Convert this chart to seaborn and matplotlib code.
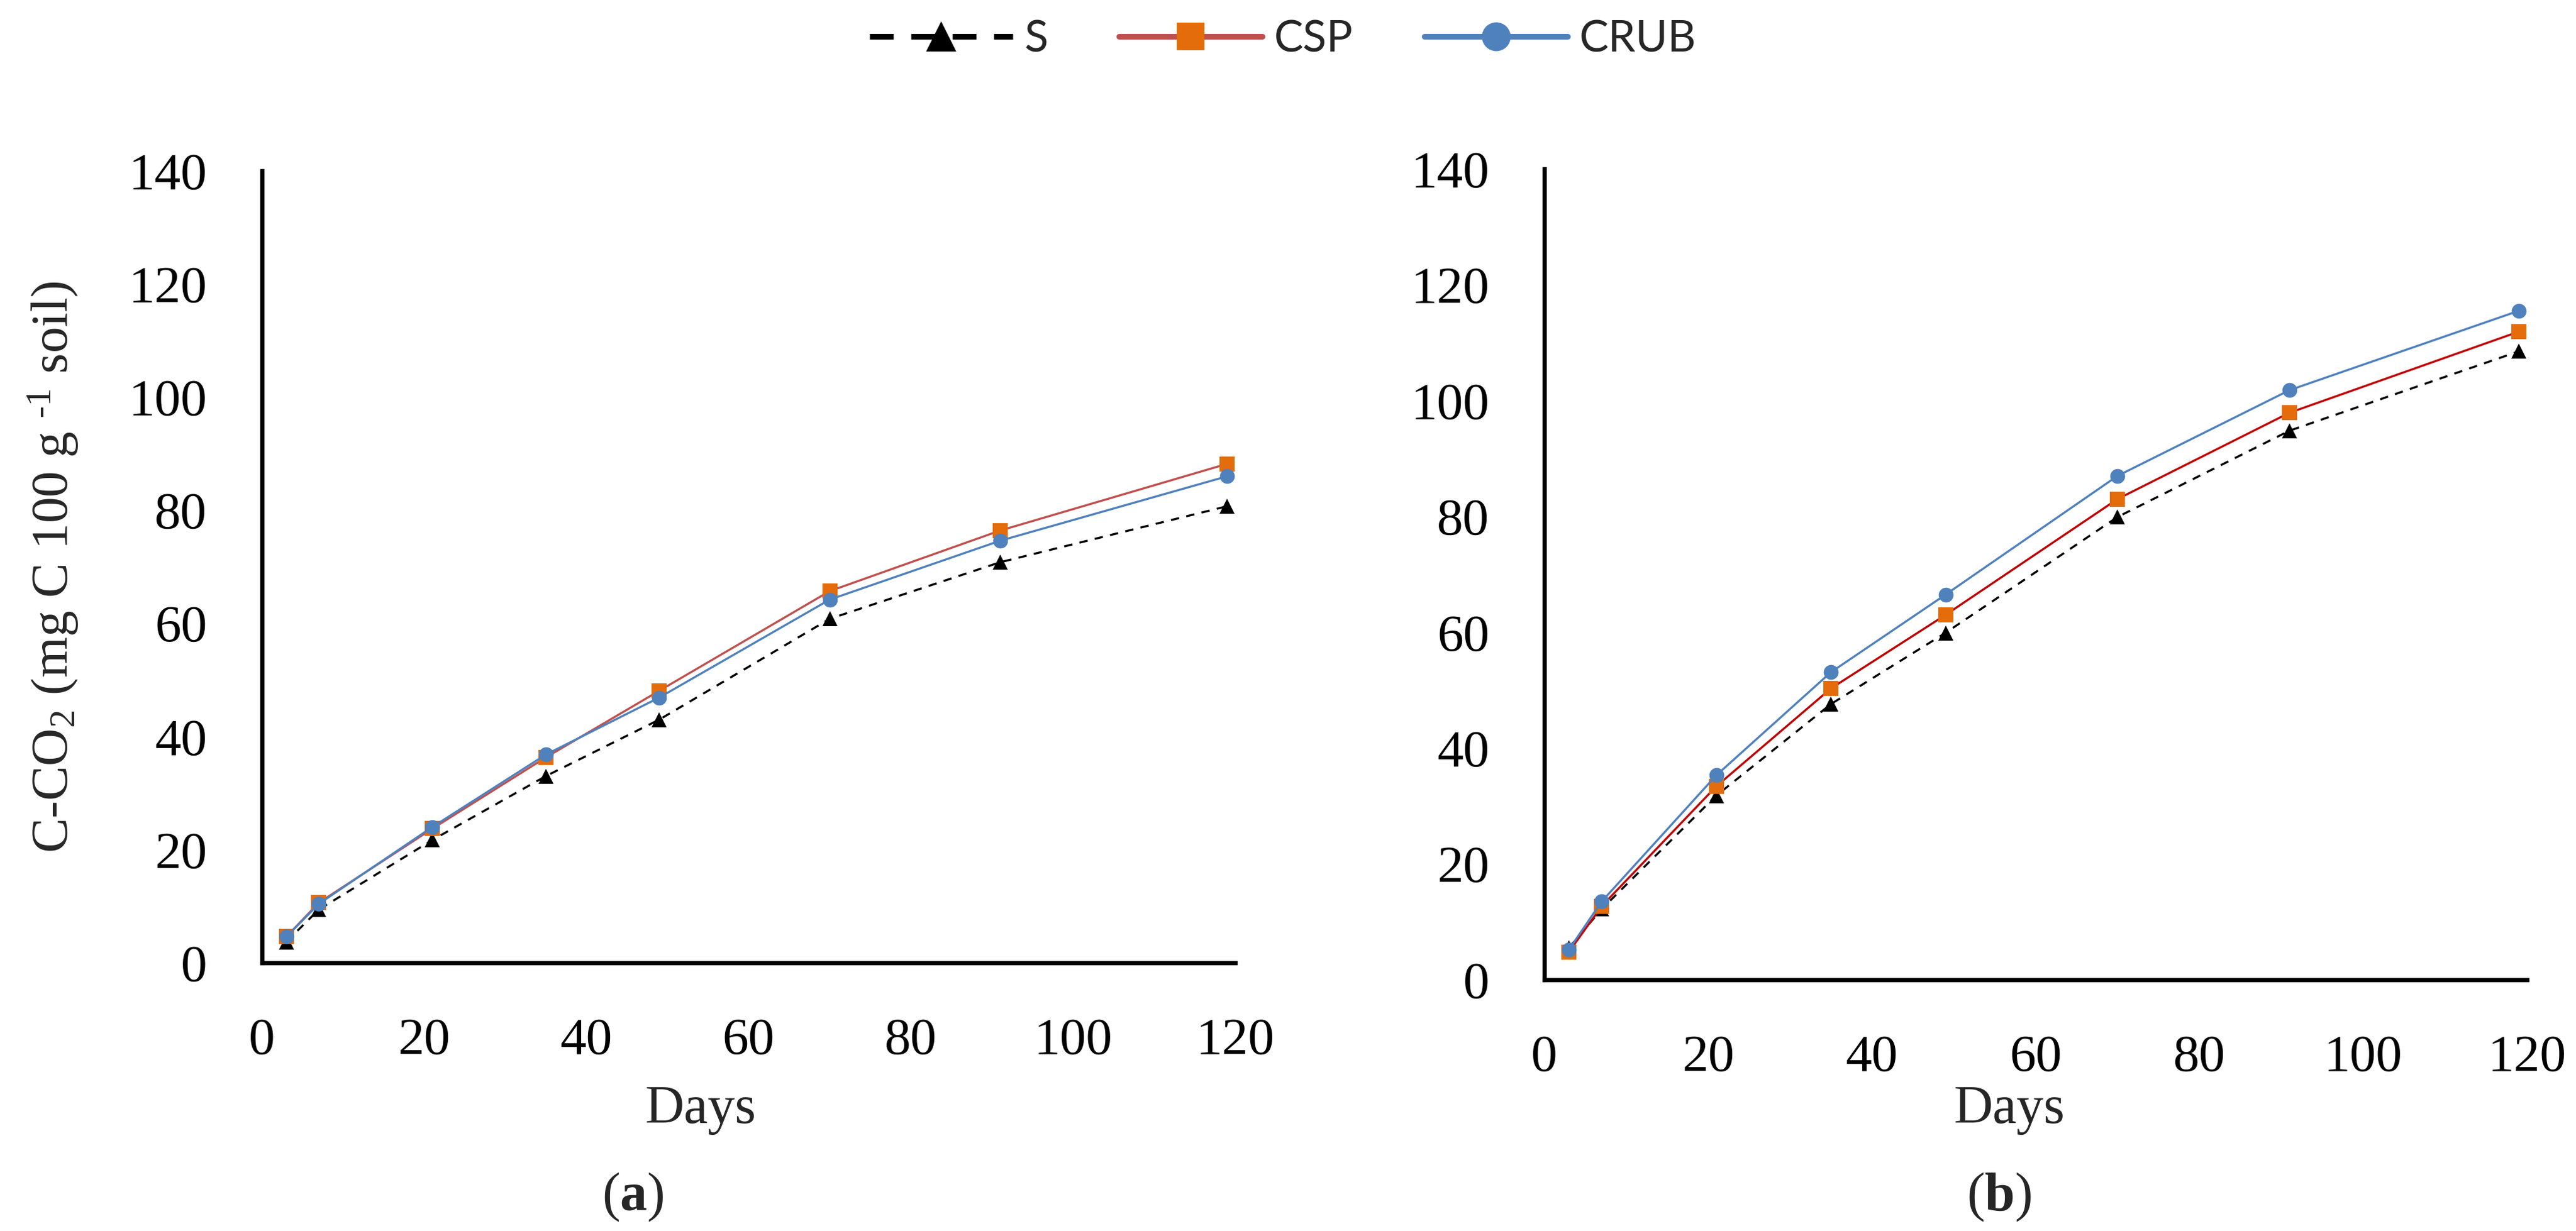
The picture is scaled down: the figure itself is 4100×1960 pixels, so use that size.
import numpy as np
import pandas as pd
import matplotlib
matplotlib.use('Agg')
import matplotlib.pyplot as plt
from matplotlib.lines import Line2D
import seaborn as sns

# dane
days = [3, 7, 21, 35, 49, 70, 91, 119]
a_S = [3.7, 9.4, 21.7, 33.0, 43.0, 60.8, 70.8, 80.7]
a_CSP = [4.6, 10.6, 23.7, 36.3, 48.1, 65.7, 76.4, 88.2]
a_CRUB = [4.6, 10.4, 24.0, 36.8, 46.9, 64.2, 74.6, 86.0]
b_S = [5.5, 12.2, 31.8, 47.6, 59.9, 79.9, 94.8, 108.5]
b_CSP = [4.8, 12.7, 33.4, 50.3, 63.0, 83.0, 97.9, 111.9]
b_CRUB = [5.2, 13.5, 35.3, 53.1, 66.5, 87.0, 101.8, 115.5]
series_names = ['S', 'CSP', 'CRUB']
x_ticks = [0, 20, 40, 60, 80, 100, 120]
y_ticks = [0, 20, 40, 60, 80, 100, 120, 140]

sns.set_style('white')
serif = ['Liberation Serif', 'DejaVu Serif']
plt.rcParams['font.family'] = serif
plt.rcParams['mathtext.fontset'] = 'custom'
plt.rcParams['mathtext.rm'] = 'Liberation Serif'
plt.rcParams['mathtext.it'] = 'Liberation Serif:italic'
plt.rcParams['mathtext.bf'] = 'Liberation Serif:bold'

black = '#000000'
red_a = '#C0504D'
red_b = '#C00000'
orange = '#E46C0A'
blue = '#4F81BD'

fig = plt.figure(figsize=(41, 19.6), dpi=100)
ax1 = fig.add_axes([0.1017, 0.2179, 0.3778, 0.6433])
ax2 = fig.add_axes([0.5995, 0.2041, 0.3815, 0.6587])


def draw(ax, s, csp, crub, csp_line):
    sns.lineplot(x=days, y=s, ax=ax, color=black, linewidth=2.4,
                 linestyle=(0, (4, 3.5)), marker='^', markersize=17,
                 markerfacecolor=black, markeredgecolor=black,
                 markeredgewidth=0, legend=False)
    sns.lineplot(x=days, y=csp, ax=ax, color=csp_line, linewidth=2.4,
                 marker='s', markersize=17, markerfacecolor=orange,
                 markeredgecolor=orange, markeredgewidth=0, legend=False)
    sns.lineplot(x=days, y=crub, ax=ax, color=blue, linewidth=2.4,
                 marker='o', markersize=17, markerfacecolor=blue,
                 markeredgecolor=blue, markeredgewidth=0, legend=False)
    ax.set_xlim(0, 120)
    ax.set_ylim(0, 140)
    ax.set_xticks(x_ticks)
    ax.set_yticks(y_ticks)
    ax.tick_params(direction='in', length=20, width=4.8, pad=63,
                   labelsize=60, colors=black)
    for lab in ax.get_xticklabels() + ax.get_yticklabels():
        lab.set_fontfamily(serif)
    for sp in ['top', 'right']:
        ax.spines[sp].set_visible(False)
    for sp in ['left', 'bottom']:
        ax.spines[sp].set_linewidth(4.8)
        ax.spines[sp].set_color(black)
    ax.grid(False)


draw(ax1, a_S, a_CSP, a_CRUB, red_a)
draw(ax2, b_S, b_CSP, b_CRUB, red_b)

# etykiety osi
ax1.set_xlabel('Days', fontsize=62)
ax1.xaxis.label.set_va('baseline')
ax1.xaxis.set_label_coords(0.4506, -0.2022)
ax2.set_xlabel('Days', fontsize=62)
ax2.xaxis.label.set_va('baseline')
ax2.xaxis.set_label_coords(0.473, -0.1766)
ax1.set_ylabel(r'C-CO$_{\mathregular{2}}$ (mg C 100 g $^{\text{-1}}$ soil)',
               fontsize=60, labelpad=55)
ax2.set_ylabel('')

fig.text(0.2456, 0.0168, r'($\mathbf{a}$)', fontsize=62, ha='center', va='baseline')
fig.text(0.776, 0.0168, r'($\mathbf{b}$)', fontsize=62, ha='center', va='baseline')

# legenda
handles = [
    Line2D([], [], color=black, lw=6.5, linestyle=(0, (4.2, 3.1)), marker='^',
           markersize=34, markerfacecolor=black, markeredgewidth=0),
    Line2D([], [], color=red_a, lw=6.5, marker='s', markersize=32,
           markerfacecolor=orange, markeredgewidth=0),
    Line2D([], [], color=blue, lw=6.5, marker='o', markersize=33,
           markerfacecolor=blue, markeredgewidth=0),
]
fig.legend(handles, series_names, loc='center', bbox_to_anchor=(0.498, 0.968),
           ncol=3, frameon=False, handlelength=3.28, handletextpad=0.27,
           columnspacing=1.63, prop={'family': 'Lato', 'size': 50})

fig.savefig('out.png', dpi=100)
